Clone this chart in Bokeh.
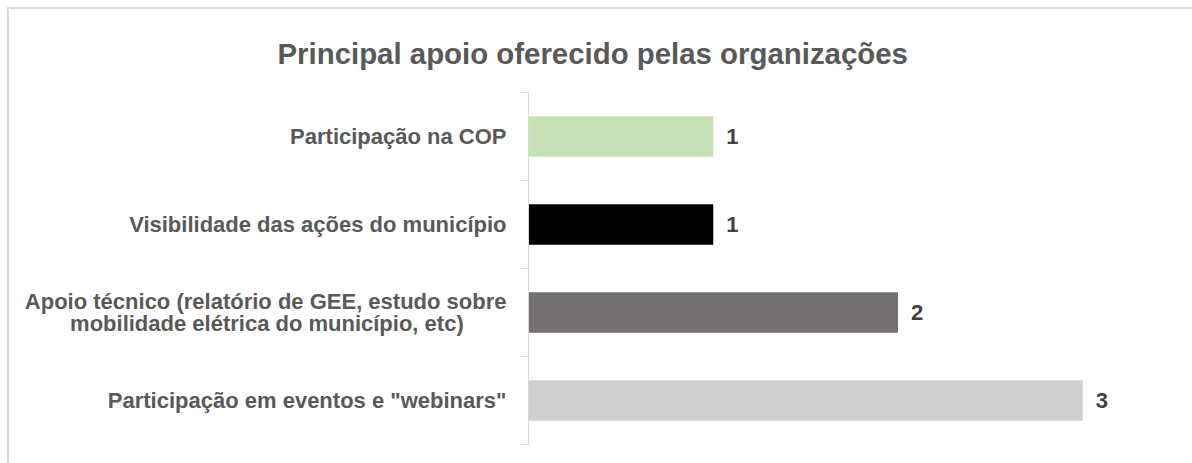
from bokeh.plotting import figure
from bokeh.models import (FactorRange, Range1d, LinearAxis, CategoricalAxis,
                          FixedTicker, ColumnDataSource)
from bokeh.embed import file_html
from bokeh.resources import INLINE
from bokeh.core.properties import value

title_text = "Principal apoio oferecido pelas organizações"
NBSP = "\u00a0"
categories = [
    "Participação na COP",
    "Visibilidade das ações do município",
    "Apoio técnico (relatório de GEE, estudo sobre\nmobilidade elétrica do município, etc)" + NBSP * 7,
    'Participação em eventos e "webinars"',
]
counts = [1, 1, 2, 3]
bar_colors = ["#c5e0b4", "#000000", "#767171", "#d0cece"]

FONT = "Liberation Sans"

src = ColumnDataSource(dict(cat=categories, count=counts, color=bar_colors,
                            label=[str(c) for c in counts]))

p = figure(width=1185, height=456,
           y_range=FactorRange(factors=categories[::-1]),
           x_range=Range1d(0, 3.41),
           x_axis_type=None, y_axis_type=None,
           output_backend="svg", toolbar_location=None,
           min_border_left=519, min_border_right=36,
           min_border_top=83, min_border_bottom=21,
           margin=(7, 0, 0, 7),
           styles={"border-top": "2px solid #d9d9d9",
                   "border-left": "2px solid #d9d9d9"})
p.grid.visible = False
p.outline_line_color = None

p.title.text = title_text
p.title.text_font = FONT
p.title.text_font_style = "bold"
p.title.text_font_size = "29.4px"
p.title.text_color = "#595959"
p.title.align = "left"
p.title.offset = -251
p.title.standoff = 45

# axis line with tick marks on the category boundaries (synthetic coords)
bound_axis = LinearAxis(ticker=FixedTicker(ticks=list(range(len(categories) + 1)), minor_ticks=[]),
                        axis_line_color="#d9d9d9", axis_line_width=1,
                        major_tick_line_color="#d9d9d9", major_tick_in=0, major_tick_out=8,
                        minor_tick_line_color=None,
                        major_label_text_color=None,
                        major_label_text_font_size="1px", major_label_standoff=0)
p.add_layout(bound_axis, "left")

cat_axis = CategoricalAxis(axis_line_color=None, major_tick_line_color=None,
                           major_tick_in=0, major_tick_out=0,
                           major_label_standoff=14,
                           major_label_text_font=FONT,
                           major_label_text_font_style="bold",
                           major_label_text_font_size="22px",
                           major_label_text_color="#595959",
                           major_label_text_line_height=0.9)
p.add_layout(cat_axis, "left")

p.hbar(y="cat", left=0, right="count", height=0.46, color="color",
       line_color=None, source=src)

p.text(x="count", y="cat", text="label", x_offset=13, text_baseline="middle",
       text_font=value(FONT), text_font_style="bold", text_font_size="22px",
       text_color="#404040", source=src)

open("out.html", "w").write(file_html(p, INLINE))
